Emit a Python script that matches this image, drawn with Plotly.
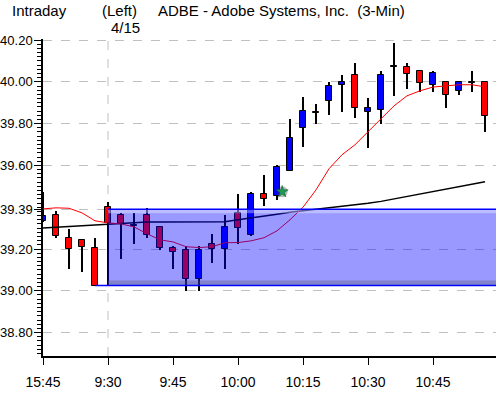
import plotly.graph_objects as go

# ---------------- data ----------------
bar_times = ["15:45", "15:48", "15:51", "15:54", "15:57",
             "9:30", "9:33", "9:36", "9:39", "9:42", "9:45", "9:48", "9:51", "9:54", "9:57",
             "10:00", "10:03", "10:06", "10:09", "10:12", "10:15", "10:18", "10:21", "10:24", "10:27",
             "10:30", "10:33", "10:36", "10:39", "10:42", "10:45", "10:48", "10:51", "10:54", "10:57"]

opens = [39.335, 39.364, 39.252, 39.244, 39.204,
         39.403, 39.364, 39.312, 39.364, 39.305, 39.204, 39.196, 39.056, 39.223, 39.200,
         39.372, 39.265, 39.463, 39.456, 39.574, 39.777, 39.850, 39.908, 39.985, 40.032,
         39.855, 39.865, 40.070, 40.070, 40.051, 39.984, 39.998, 39.955, 39.996, 39.998]
highs = [39.475, 39.383, 39.295, 39.244, 39.255,
         39.425, 39.373, 39.373, 39.396, 39.310, 39.214, 39.214, 39.214, 39.273, 39.364,
         39.464, 39.472, 39.555, 39.603, 39.823, 39.928, 39.895, 39.999, 40.032, 40.089,
         39.922, 40.051, 40.185, 40.091, 40.051, 40.051, 39.998, 39.998, 40.051, 39.998]
lows = [39.330, 39.251, 39.104, 39.089, 39.025,
        39.025, 39.151, 39.222, 39.252, 39.195, 39.104, 38.997, 38.997, 39.131, 39.104,
        39.225, 39.260, 39.407, 39.435, 39.571, 39.690, 39.800, 39.839, 39.858, 39.829,
        39.682, 39.800, 39.930, 39.968, 39.951, 39.951, 39.873, 39.937, 39.951, 39.762]
closes = [39.360, 39.264, 39.200, 39.209, 39.025,
          39.324, 39.319, 39.312, 39.268, 39.207, 39.185, 39.056, 39.196, 39.200, 39.305,
          39.300, 39.463, 39.439, 39.592, 39.731, 39.861, 39.850, 39.980, 39.998, 39.877,
          39.874, 40.032, 40.070, 40.036, 39.994, 40.043, 39.936, 39.998, 39.996, 39.836]

red_avg = [39.392, 39.397, 39.395, 39.373, 39.335,
           39.325, 39.320, 39.306, 39.273, 39.244, 39.234, 39.211, 39.207, 39.211, 39.230,
           39.231, 39.239, 39.254, 39.287, 39.340, 39.400, 39.483, 39.584, 39.651, 39.699,
           39.761, 39.828, 39.885, 39.933, 39.957, 39.975, 39.981, 39.986, 39.986, 39.976]
black_avg = [39.300, 39.304, 39.308, 39.311, 39.316,
             39.319, 39.324, 39.327, 39.329, 39.329, 39.329, 39.329, 39.329, 39.329, 39.330,
             39.340, 39.348, 39.356, 39.366, 39.376, 39.383, 39.390, 39.397, 39.404, 39.409,
             39.419, 39.428, 39.440, 39.452, 39.464, 39.476, 39.488, 39.500, 39.510, 39.522]

y_tick_vals = [38.80, 39.00, 39.20, 39.39, 39.60, 39.80, 40.00, 40.20]
y_tick_text = ["38.80", "39.00", "39.20", "39.39", "39.60", "39.80", "40.00", "40.20"]

range_high = 39.39
range_low = 39.025
range_low_start = 4      # bar index where the low line starts
session_start = 5        # bar index of 9:30 (day boundary)

signal_x = [18.4]
signal_y = [39.474]

title_left = "Intraday"
title_mid = "(Left)"
title_main = "ADBE - Adobe Systems, Inc.  (3-Min)"
date_label = "4/15"

# ---------------- figure ----------------
W, H = 496, 393
ML, MR, MT, MB = 43, 0, 39, 37
PW, PH = W - ML - MR, H - MT - MB
BAR_PX = 13.0
x_max = PW / BAR_PX
y_min, y_max = 38.688, 40.205

idx = list(range(len(opens)))
body_base, body_h, body_col = [], [], []
for o, c in zip(opens, closes):
    body_base.append(min(o, c))
    body_h.append(max(abs(c - o), 0.004))
    body_col.append("#0000ff" if c > o else ("#ff0000" if c < o else "#000000"))

tick_idx = [i for i, t in enumerate(bar_times) if int(t.split(":")[1]) % 15 == 0]
tick_txt = [bar_times[i] for i in tick_idx]

FONT = "Liberation Sans, Arial, sans-serif"

fig = go.Figure()
# wicks
fig.add_trace(go.Bar(x=idx, y=[h - l for h, l in zip(highs, lows)], base=lows,
                     width=0.085, marker=dict(color="#000000", line=dict(width=0)),
                     hoverinfo="skip", showlegend=False))
# bodies
fig.add_trace(go.Bar(x=idx, y=body_h, base=body_base, width=0.40,
                     marker=dict(color=body_col, line=dict(color="#000000", width=1)),
                     showlegend=False))
# averages
fig.add_trace(go.Scatter(x=idx, y=black_avg, mode="lines",
                         line=dict(color="#000000", width=1.5), showlegend=False))
fig.add_trace(go.Scatter(x=idx, y=red_avg, mode="lines",
                         line=dict(color="#ff0000", width=1), showlegend=False))
# signal marker
fig.add_trace(go.Scatter(x=signal_x, y=signal_y, mode="markers",
                         marker=dict(symbol="circle", size=11, color="rgba(60,60,60,0.35)"),
                         showlegend=False))
fig.add_trace(go.Scatter(x=signal_x, y=signal_y, mode="markers",
                         marker=dict(symbol="star", size=9, color="#1f9a55",
                                     line=dict(color="#0b5a2c", width=0.5)),
                         showlegend=False))

shapes = [
    # day boundary dashed gridline
    dict(type="line", xref="x", yref="paper", x0=session_start, x1=session_start, y0=0, y1=1,
         line=dict(color="#c0c0c0", width=1, dash="dash"), layer="below"),
    # range box
    dict(type="rect", xref="x", yref="y", x0=session_start, x1=x_max, y0=range_low, y1=range_high,
         fillcolor="rgba(0,0,255,0.40)", line=dict(width=0), layer="above"),
    # light band under top edge
    dict(type="rect", xref="x", yref="y", ysizemode="pixel", yanchor=range_high,
         x0=session_start, x1=x_max, y0=-4, y1=0,
         fillcolor="rgba(255,255,255,0.35)", line=dict(width=0), layer="above"),
    # shadow band above bottom edge
    dict(type="rect", xref="x", yref="y", ysizemode="pixel", yanchor=range_low,
         x0=session_start, x1=x_max, y0=0, y1=5,
         fillcolor="rgba(90,90,110,0.35)", line=dict(width=0), layer="above"),
    dict(type="line", xref="x", yref="y", x0=session_start, x1=x_max, y0=range_high, y1=range_high,
         line=dict(color="#0000ff", width=1.5), layer="above"),
    dict(type="line", xref="x", yref="y", x0=range_low_start, x1=x_max, y0=range_low, y1=range_low,
         line=dict(color="#0000ff", width=1.5), layer="above"),
]


def px_x(p):
    return (p - ML) / PW


def px_y(p):
    return (H - MB - p) / PH


TFONT = dict(family="Liberation Sans, Arial, sans-serif", size=15, color="#000000")
annotations = [
    dict(text=title_left, x=px_x(10), y=px_y(10.5), xref="paper", yref="paper",
         xanchor="left", yanchor="middle", showarrow=False, font=TFONT),
    dict(text=title_mid, x=px_x(100), y=px_y(10.5), xref="paper", yref="paper",
         xanchor="left", yanchor="middle", showarrow=False, font=TFONT),
    dict(text=title_main, x=px_x(156), y=px_y(10.5), xref="paper", yref="paper",
         xanchor="left", yanchor="middle", showarrow=False, font=TFONT),
    dict(text=date_label, x=px_x(109), y=px_y(27), xref="paper", yref="paper",
         xanchor="left", yanchor="middle", showarrow=False, font=TFONT),
]

fig.update_layout(
    width=W, height=H,
    margin=dict(l=ML, r=MR, t=MT, b=MB, pad=0, autoexpand=False),
    paper_bgcolor="#ffffff", plot_bgcolor="#ffffff",
    barmode="overlay", bargap=0,
    showlegend=False,
    shapes=shapes, annotations=annotations,
    font=dict(family=FONT, size=14, color="#000000"),
    xaxis=dict(range=[0, x_max], showgrid=False, zeroline=False, automargin=False,
               showline=True, linecolor="#000000", linewidth=1.5,
               tickmode="array", tickvals=tick_idx, ticktext=tick_txt,
               ticks="outside", ticklen=7, tickwidth=1, tickcolor="#000000",
               ticklabelstandoff=5,
               tickfont=dict(family=FONT, size=14, color="#000000"), fixedrange=True),
    yaxis=dict(range=[y_min, y_max], showgrid=True, gridcolor="#c0c0c0", gridwidth=1,
               griddash="dash", zeroline=False, automargin=False,
               showline=True, linecolor="#000000", linewidth=1.5,
               tickmode="array", tickvals=y_tick_vals, ticktext=y_tick_text,
               ticks="outside", ticklen=7, tickwidth=1, tickcolor="#000000",
               ticklabelstandoff=-1,
               minor=dict(tickmode="linear", tick0=0, dtick=0.02, ticks="outside",
                          ticklen=4, tickwidth=1, tickcolor="#000000", showgrid=False),
               tickfont=dict(family=FONT, size=13, color="#000000"), fixedrange=True),
)

fig.write_html("out.html", config={"displayModeBar": False},
               post_script="document.body.style.margin='0px';document.body.style.overflow='hidden';")
